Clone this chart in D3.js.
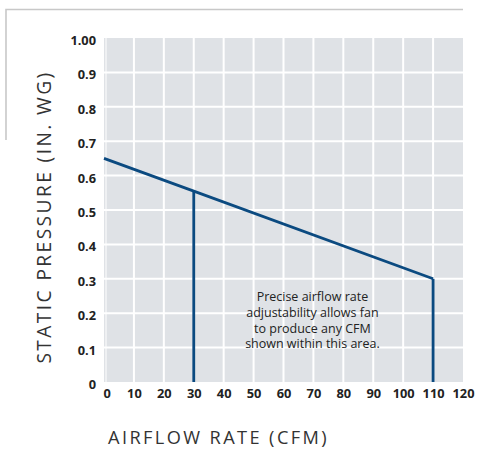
<!DOCTYPE html>
<html><head><meta charset="utf-8">
<script src="https://cdn.jsdelivr.net/npm/d3@7"></script>
<style>
html,body{margin:0;padding:0;background:#fff;}
svg{display:block;}
</style></head>
<body>
<script>
const xTicks = [0,10,20,30,40,50,60,70,80,90,100,110,120];
const yTicks = [0,0.1,0.2,0.3,0.4,0.5,0.6,0.7,0.8,0.9,1.0];
const yTickLabels = ["0","0.1","0.2","0.3","0.4","0.5","0.6","0.7","0.8","0.9","1.00"];
const curveCFM = [0, 30, 110];
const curvePressure = [0.65, 0.555, 0.30];
const dropCFM = [30, 110];
const noteLines = ["Precise airflow rate","adjustability allows fan","to produce any CFM","shown within this area."];
const noteCFM = 70;

const W=478,H=449;
const FONT="'Open Sans', Lato, sans-serif";
const svg=d3.select("body").append("svg").attr("width",W).attr("height",H);
const x=d3.scaleLinear().domain([0,120]).range([104,463]);
const y=d3.scaleLinear().domain([0,1]).range([382,38]);

// frame
svg.append("path").attr("d","M6,140 V9.5 H463").attr("fill","none").attr("stroke","#c8c8c8").attr("stroke-width",1.6);

// plot background
svg.append("rect").attr("x",x(0)).attr("y",y(1)).attr("width",x(120)-x(0)).attr("height",y(0)-y(1)).attr("fill","#dfe2e6");

// grid
const g=svg.append("g");
g.selectAll(".vg").data(xTicks.slice(1,-1)).join("line")
 .attr("x1",d=>x(d)).attr("x2",d=>x(d)).attr("y1",y(1)).attr("y2",y(0))
 .attr("stroke","#fff").attr("stroke-width",2);
g.selectAll(".hg").data(yTicks.slice(1,-1)).join("line")
 .attr("x1",x(0)).attr("x2",x(120)).attr("y1",d=>y(d)).attr("y2",d=>y(d))
 .attr("stroke","#fff").attr("stroke-width",2);
g.append("line").attr("x1",x(0)+2).attr("x2",x(0)+2).attr("y1",y(1)).attr("y2",y(0)).attr("stroke","#fff").attr("stroke-width",1);

// axes labels
const yAxis=d3.axisLeft(y).tickValues(yTicks).tickFormat((d,i)=>yTickLabels[i]).tickSize(0).tickPadding(8);
const ya=svg.append("g").attr("transform",`translate(${x(0)},0)`).call(yAxis);
ya.select(".domain").remove();
ya.selectAll("text").attr("font-family",FONT).attr("font-weight","bold").attr("font-size",12.8).attr("fill","#222").attr("dy","0.5em");

const xAxis=d3.axisBottom(x).tickValues(xTicks).tickSize(0).tickPadding(7);
const xa=svg.append("g").attr("transform",`translate(0,${y(0)})`).call(xAxis);
xa.select(".domain").remove();
xa.selectAll("text").attr("font-family",FONT).attr("font-weight","bold").attr("font-size",12.8).attr("fill","#222").attr("text-anchor",d=>d===0?"start":"middle").attr("dx",d=>d===0?"-1":"0");

// curve
const pts=curveCFM.map((c,i)=>[c,curvePressure[i]]);
const line=d3.line().x(d=>x(d[0])).y(d=>y(d[1]));
svg.append("path").attr("d",line(pts)).attr("fill","none").attr("stroke","#0b4a80").attr("stroke-width",2.8).attr("stroke-linejoin","miter");
dropCFM.forEach(c=>{
  const p=curvePressure[curveCFM.indexOf(c)];
  svg.append("line").attr("x1",x(c)).attr("x2",x(c)).attr("y1",y(p)).attr("y2",y(0)).attr("stroke","#0b4a80").attr("stroke-width",2.8);
});

// note
const t=svg.append("text").attr("font-family",FONT).attr("font-size",12.5).attr("fill","#222").attr("text-anchor","middle");
noteLines.forEach((s,i)=>t.append("tspan").attr("x",x(noteCFM)-1).attr("y",301+i*15.8).text(s));

// axis titles
svg.append("text").attr("x",108).attr("y",443.5).attr("font-family",FONT).attr("font-size",18.2).attr("letter-spacing",2.4).attr("fill","#333").text("AIRFLOW RATE (CFM)");
svg.append("text").attr("transform","translate(51,217) rotate(-90)").attr("text-anchor","middle").attr("font-family",FONT).attr("font-size",19.2).attr("letter-spacing",2.4).attr("fill","#333").text("STATIC PRESSURE (IN. WG)");
</script>
</body></html>
